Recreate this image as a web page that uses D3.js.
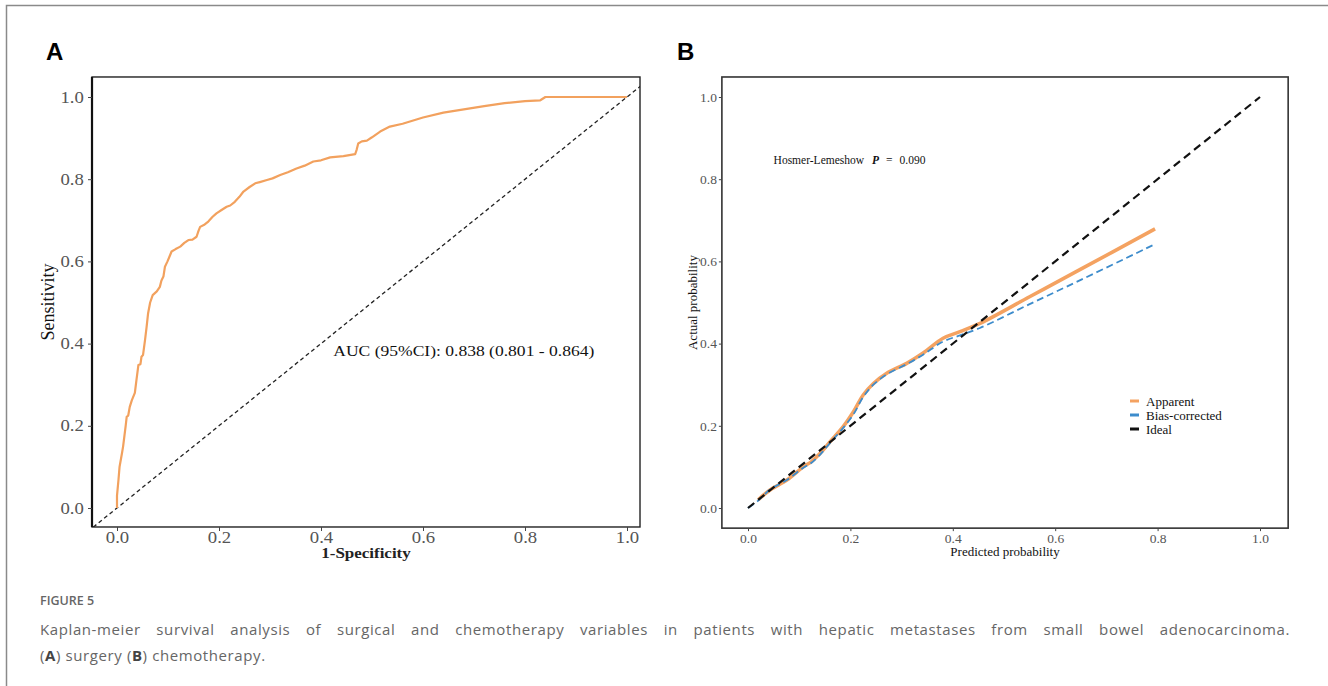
<!DOCTYPE html>
<html>
<head>
<meta charset="utf-8">
<script src="https://cdn.jsdelivr.net/npm/d3@7"></script>
<style>
  body { margin: 0; background: #fff; }
  svg { display: block; }
</style>
</head>
<body>
<svg id="fig" width="1328" height="686"></svg>
<script>
// ---- data ----
var rocFpr = [0, 0, 0.003, 0.005, 0.01, 0.012, 0.017, 0.019, 0.022, 0.025, 0.029, 0.035, 0.038, 0.042, 0.046, 0.048,
  0.051, 0.055, 0.058, 0.061, 0.065, 0.070, 0.078, 0.084, 0.087, 0.091, 0.094, 0.099, 0.104, 0.107, 0.115, 0.124,
  0.132, 0.140, 0.148, 0.156, 0.160, 0.163, 0.172, 0.179, 0.187, 0.195, 0.205, 0.215, 0.222, 0.231, 0.240, 0.248,
  0.260, 0.271, 0.280, 0.294, 0.305, 0.320, 0.335, 0.352, 0.368, 0.385, 0.400, 0.418, 0.444, 0.467, 0.470, 0.473,
  0.480, 0.490, 0.500, 0.516, 0.535, 0.560, 0.600, 0.640, 0.680, 0.720, 0.760, 0.800, 0.830, 0.840, 1.0];
var rocTpr = [0, 0.03, 0.07, 0.10, 0.135, 0.15, 0.20, 0.222, 0.225, 0.246, 0.262, 0.28, 0.31, 0.348, 0.35, 0.368,
  0.372, 0.409, 0.44, 0.474, 0.50, 0.518, 0.527, 0.538, 0.553, 0.563, 0.587, 0.60, 0.615, 0.624, 0.63, 0.636,
  0.645, 0.652, 0.653, 0.66, 0.675, 0.684, 0.69, 0.697, 0.708, 0.717, 0.725, 0.733, 0.736, 0.745, 0.757, 0.77,
  0.781, 0.79, 0.793, 0.798, 0.802, 0.81, 0.817, 0.826, 0.833, 0.843, 0.846, 0.853, 0.856, 0.861, 0.872, 0.887,
  0.892, 0.894, 0.902, 0.916, 0.928, 0.935, 0.95, 0.962, 0.97, 0.978, 0.985, 0.99, 0.992, 1.0, 1.0];

var apparentX = [0.02, 0.043, 0.076, 0.108, 0.124, 0.141, 0.16, 0.186, 0.206, 0.225, 0.245, 0.271, 0.31, 0.342, 0.381, 0.414, 0.453, 0.55, 0.65, 0.795];
var apparentY = [0.02, 0.044, 0.068, 0.10, 0.113, 0.133, 0.161, 0.198, 0.234, 0.275, 0.303, 0.328, 0.352, 0.377, 0.413, 0.429, 0.449, 0.514, 0.581, 0.679];
var biasX = [0, 0.02, 0.043, 0.076, 0.108, 0.124, 0.141, 0.16, 0.186, 0.206, 0.225, 0.245, 0.271, 0.31, 0.342, 0.381, 0.414, 0.453, 0.55, 0.65, 0.795];
var biasY = [0, 0.018, 0.045, 0.068, 0.098, 0.11, 0.13, 0.158, 0.195, 0.228, 0.27, 0.30, 0.325, 0.35, 0.373, 0.405, 0.42, 0.438, 0.496, 0.555, 0.642];
var idealX = [0, 1];

var tickVals = [0, 0.2, 0.4, 0.6, 0.8, 1.0];
var legendNames = ["Apparent", "Bias-corrected", "Ideal"];
var legendColors = ["#f4a261", "#3d8ccc", "#111"];

var svg = d3.select("#fig");
var serif = "'Liberation Serif', 'Times New Roman', serif";
var fmt = d3.format(".1f");

// outer frame
svg.append("path").attr("d", "M6.5,686V5.5H1328").attr("fill", "none").attr("stroke", "#8a8a8a").attr("stroke-width", 1.5);

// panel letters
svg.append("text").attr("x", 46).attr("y", 60).text("A")
  .style("font-family", "'Liberation Sans', Arial, sans-serif").style("font-weight", "bold").style("font-size", "24px");
svg.append("text").attr("x", 677).attr("y", 60).text("B")
  .style("font-family", "'Liberation Sans', Arial, sans-serif").style("font-weight", "bold").style("font-size", "24px");

// ---- panel A: ROC ----
var xA = d3.scaleLinear().domain([0, 1]).range([117, 627]);
var yA = d3.scaleLinear().domain([0, 1]).range([508, 97]);
var aLeft = xA(-0.049), aRight = xA(1.0255), aTop = yA(1.0487), aBot = yA(-0.0462);
var stretch = "scale(1.17,1)";

svg.append("clipPath").attr("id", "clipA").append("rect")
  .attr("x", aLeft).attr("y", aTop).attr("width", aRight - aLeft).attr("height", aBot - aTop);

var gA = svg.append("g");
gA.append("line").attr("clip-path", "url(#clipA)")
  .attr("x1", xA(-0.1)).attr("y1", yA(-0.1)).attr("x2", xA(1.1)).attr("y2", yA(1.1))
  .attr("stroke", "#222").attr("stroke-width", 1.3).attr("stroke-dasharray", "4,3");

var rocLine = d3.line().x(function(d, i) { return xA(rocFpr[i]); }).y(function(d, i) { return yA(rocTpr[i]); });
gA.append("path").datum(rocFpr).attr("d", rocLine).attr("fill", "none")
  .attr("stroke", "#f2a15e").attr("stroke-width", 2.2).attr("stroke-linejoin", "round");

gA.append("rect").attr("x", aLeft).attr("y", aTop).attr("width", aRight - aLeft).attr("height", aBot - aTop)
  .attr("fill", "none").attr("stroke", "#222").attr("stroke-width", 1.4);
gA.append("line").attr("x1", aLeft).attr("x2", aLeft).attr("y1", aTop).attr("y2", aBot)
  .attr("stroke", "#111").attr("stroke-width", 2.2);

var axA = gA.append("g").attr("transform", "translate(" + aLeft + ",0)")
  .call(d3.axisLeft(yA).tickValues(tickVals).tickFormat(fmt).tickSize(4).tickPadding(3));
var axAx = gA.append("g").attr("transform", "translate(0," + aBot + ")")
  .call(d3.axisBottom(xA).tickValues(tickVals).tickFormat(fmt).tickSize(4).tickPadding(1));
[axA, axAx].forEach(function(ax) {
  ax.select(".domain").remove();
  ax.selectAll("line").attr("stroke", "#444");
  ax.selectAll("text").attr("fill", "#555").attr("transform", stretch)
    .style("font-family", serif).style("font-size", "16px");
});

gA.append("text").attr("text-anchor", "middle")
  .attr("transform", "translate(" + ((aLeft + aRight) / 2) + ",558) " + stretch)
  .text("1-Specificity").style("font-family", serif).style("font-size", "14.5px").style("font-weight", "bold").attr("fill", "#222");
gA.append("text").attr("text-anchor", "middle")
  .attr("transform", "translate(54," + ((aTop + aBot) / 2) + ") rotate(-90)")
  .text("Sensitivity").style("font-family", serif).style("font-size", "18px").attr("fill", "#111");
gA.append("text").attr("text-anchor", "start")
  .attr("transform", "translate(" + xA(0.424) + "," + (yA(0.4) + 12) + ") " + stretch)
  .text("AUC (95%CI): 0.838 (0.801 - 0.864)").style("font-family", serif).style("font-size", "15px").attr("fill", "#111");

// ---- panel B: calibration ----
var xB = d3.scaleLinear().domain([0, 1]).range([748, 1260]);
var yB = d3.scaleLinear().domain([0, 1]).range([508, 97]);
var bLeft = xB(-0.051), bRight = xB(1.055), bTop = yB(1.0487), bBot = yB(-0.049);

var gB = svg.append("g");
var calLine = d3.line().curve(d3.curveCatmullRom.alpha(0.5));

gB.append("path").datum(apparentX.map(function(v, i) { return [xB(v), yB(apparentY[i])]; }))
  .attr("d", calLine).attr("fill", "none").attr("stroke", legendColors[0]).attr("stroke-width", 3.6);
gB.append("path").datum(biasX.map(function(v, i) { return [xB(v), yB(biasY[i])]; }))
  .attr("d", calLine).attr("fill", "none").attr("stroke", legendColors[1]).attr("stroke-width", 1.8)
  .attr("stroke-dasharray", "7,4");
gB.append("path").datum(idealX.map(function(v) { return [xB(v), yB(v)]; }))
  .attr("d", d3.line()).attr("fill", "none").attr("stroke", legendColors[2]).attr("stroke-width", 2.2)
  .attr("stroke-dasharray", "8,5");

gB.append("rect").attr("x", bLeft).attr("y", bTop).attr("width", bRight - bLeft).attr("height", bBot - bTop)
  .attr("fill", "none").attr("stroke", "#333").attr("stroke-width", 1.6);

var axB = gB.append("g").attr("transform", "translate(" + bLeft + ",0)")
  .call(d3.axisLeft(yB).tickValues(tickVals).tickFormat(fmt).tickSize(3).tickPadding(2));
var axBx = gB.append("g").attr("transform", "translate(0," + bBot + ")")
  .call(d3.axisBottom(xB).tickValues(tickVals).tickFormat(fmt).tickSize(3).tickPadding(2));
[axB, axBx].forEach(function(ax) {
  ax.select(".domain").remove();
  ax.selectAll("line").attr("stroke", "#444");
  ax.selectAll("text").attr("fill", "#555").style("font-family", serif).style("font-size", "13.5px");
});

gB.append("text").attr("x", (bLeft + bRight) / 2).attr("y", 556).attr("text-anchor", "middle")
  .text("Predicted probability").style("font-family", serif).style("font-size", "13px").attr("fill", "#111");
gB.append("text").attr("text-anchor", "middle")
  .attr("transform", "translate(697," + ((bTop + bBot) / 2) + ") rotate(-90)")
  .text("Actual probability").style("font-family", serif).style("font-size", "13px").attr("fill", "#111");

var hl = gB.append("text").attr("x", xB(0.05)).attr("y", 164)
  .style("font-family", serif).style("font-size", "11.5px").attr("fill", "#111");
hl.append("tspan").text("Hosmer-Lemeshow");
hl.append("tspan").attr("dx", 8).text("P").style("font-style", "italic").style("font-weight", "bold");
hl.append("tspan").attr("dx", 7).text("=");
hl.append("tspan").attr("dx", 7).text("0.090");

var leg = gB.append("g").selectAll("g").data(legendNames).enter().append("g")
  .attr("transform", function(d, i) { return "translate(1130," + (401 + i * 14) + ")"; });
leg.append("line").attr("x1", 0).attr("x2", 9).attr("y1", 0).attr("y2", 0)
  .attr("stroke", function(d, i) { return legendColors[i]; }).attr("stroke-width", 3);
leg.append("text").attr("x", 16).attr("dy", "0.35em").text(function(d) { return d; })
  .style("font-family", serif).style("font-size", "13px").attr("fill", "#111");

// ---- caption ----
var sans = "'Open Sans', 'Noto Sans', sans-serif";
svg.append("text").attr("x", 40).attr("y", 605).text("FIGURE 5")
  .style("font-family", sans).style("font-size", "12.5px").style("font-weight", "600").attr("fill", "#666");

var capText = "Kaplan-meier survival analysis of surgical and chemotherapy variables in patients with hepatic metastases from small bowel adenocarcinoma.";
var track = 0.6;
var cap1 = svg.append("text").attr("x", 40).attr("y", 635).text(capText)
  .style("font-family", sans).style("font-size", "15px").style("letter-spacing", track + "px").attr("fill", "#666");
// justify: spread what is left over the word gaps
var tracked = cap1.node().getComputedTextLength();
var gaps = capText.split(" ").length - 1;
cap1.style("word-spacing", ((1250 - tracked) / gaps) + "px");

var cap2 = svg.append("text").attr("x", 40).attr("y", 661)
  .style("font-family", sans).style("font-size", "15px").style("letter-spacing", track + "px").attr("fill", "#666");
cap2.append("tspan").text("(");
cap2.append("tspan").text("A").style("font-weight", "bold").attr("fill", "#444");
cap2.append("tspan").text(") surgery (");
cap2.append("tspan").text("B").style("font-weight", "bold").attr("fill", "#444");
cap2.append("tspan").text(") chemotherapy.");
</script>
</body>
</html>
